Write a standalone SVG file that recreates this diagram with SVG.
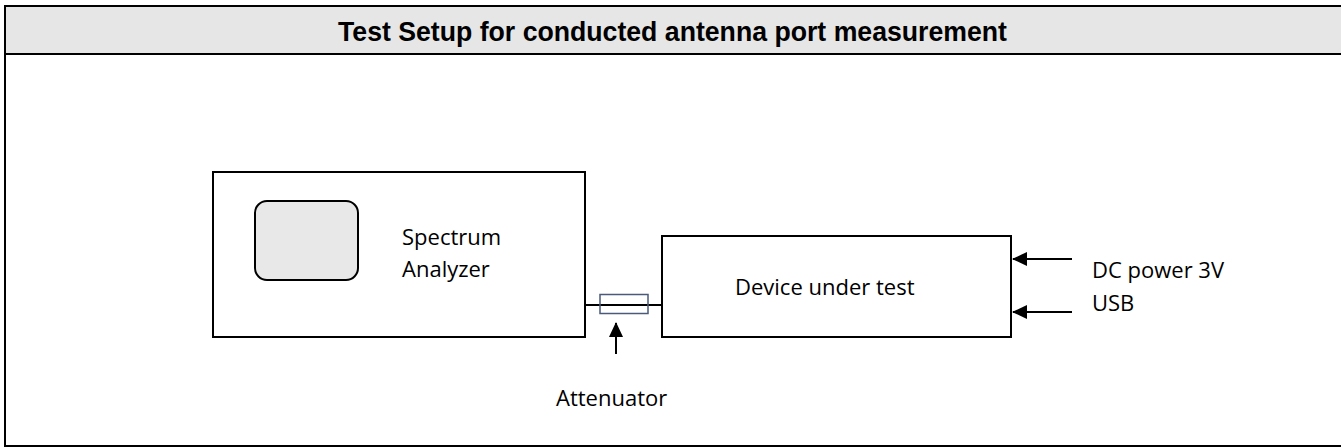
<svg xmlns="http://www.w3.org/2000/svg" width="1341" height="448" viewBox="0 0 1341 448">
<style>
.t{font-family:"Open Sans","Liberation Sans",sans-serif;font-size:22px;fill:#000}
.box{fill:#fff;stroke:#000;stroke-width:2}
.ln{stroke:#000;stroke-width:2;fill:none}
</style>
<defs>
<marker id="ah" markerWidth="15" markerHeight="14" refX="14" refY="7" orient="auto" markerUnits="userSpaceOnUse" viewBox="0 0 15 14">
<path d="M0,0 L15,7 L0,14 Z" fill="#000"/>
</marker>
</defs>
<rect x="0" y="0" width="1341" height="448" fill="#fff"/>
<g id="frame">
<rect x="5" y="6" width="1340" height="440" fill="none" stroke="#000" stroke-width="2"/>
<rect x="6" y="7" width="1335" height="46" fill="#e6e6e6" stroke="none"/>
<line x1="5" y1="54" x2="1341" y2="54" stroke="#000" stroke-width="2"/>
<text x="672.5" y="41" text-anchor="middle" font-family="'Liberation Sans',Arial,sans-serif" font-weight="bold" font-size="28" textLength="669" lengthAdjust="spacingAndGlyphs">Test Setup for conducted antenna port measurement</text>
</g>
<g id="connectors">
<line class="ln" x1="585" y1="305" x2="662" y2="305"/>
<line class="ln" x1="616" y1="354" x2="616" y2="323" marker-end="url(#ah)"/>
<line class="ln" x1="1072" y1="259" x2="1013" y2="259" marker-end="url(#ah)"/>
<line class="ln" x1="1072" y1="312" x2="1013" y2="312" marker-end="url(#ah)"/>
</g>
<g id="spectrum-analyzer">
<rect class="box" x="213" y="172" width="372" height="165"/>
<rect x="255" y="201" width="103" height="79" rx="12" ry="12" fill="#e8e8e8" stroke="#000" stroke-width="2"/>
<text class="t" x="402" y="245">Spectrum</text>
<text class="t" x="402" y="277">Analyzer</text>
</g>
<g id="attenuator">
<rect x="600" y="294.5" width="48" height="19" fill="none" stroke="#4a5a78" stroke-width="1.5"/>
<text class="t" x="556" y="406">Attenuator</text>
</g>
<g id="device-under-test">
<rect class="box" x="662" y="236" width="349" height="101"/>
<text class="t" x="735" y="295">Device under test</text>
</g>
<g id="inputs">
<text class="t" x="1092" y="278">DC power 3V</text>
<text class="t" x="1092" y="311">USB</text>
</g>
</svg>
